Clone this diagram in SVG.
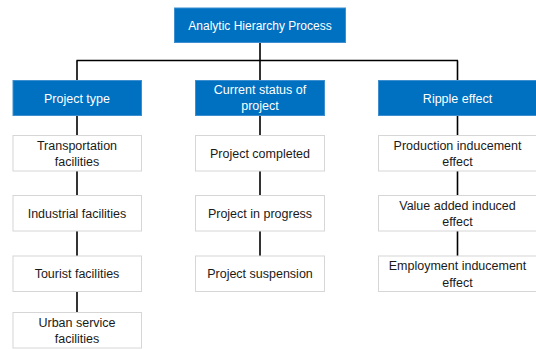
<svg xmlns="http://www.w3.org/2000/svg" width="536" height="349" viewBox="0 0 536 349">
  <style>
    .head rect { fill: #0070C0; stroke: #3d8fd0; stroke-width: 1; }
    .head text { fill: #ffffff; }
    .item rect { fill: #ffffff; stroke: #d6d6d6; stroke-width: 1; }
    .item text { fill: #1a1a1a; }
    text { font-family: "Liberation Sans", Arial, sans-serif; font-size: 12.5px; text-anchor: middle; }
    .links line { stroke: #000000; stroke-width: 1.6; }
  </style>
  <rect width="536" height="349" fill="#ffffff"/>

  <!-- connectors -->
  <g id="connectors" class="links">
    <line x1="260" y1="42" x2="260" y2="60.5"/>
    <line x1="76.5" y1="60.5" x2="458" y2="60.5"/>
    <line x1="77" y1="60.5" x2="77" y2="312"/>
    <line x1="260" y1="60.5" x2="260" y2="256"/>
    <line x1="457.5" y1="60.5" x2="457.5" y2="256"/>
  </g>

  <!-- root -->
  <g id="ahp" class="head">
    <rect x="174.5" y="8" width="171" height="34.5"/>
    <text x="260" y="29.5" style="font-size:12px">Analytic Hierarchy Process</text>
  </g>

  <!-- criteria -->
  <g id="project-type" class="head">
    <rect x="13" y="80.5" width="128.5" height="35"/>
    <text x="77" y="102.5">Project type</text>
  </g>
  <g id="current-status" class="head">
    <rect x="195.5" y="80.5" width="129" height="35"/>
    <text x="260" y="94">Current status of</text>
    <text x="260" y="110">project</text>
  </g>
  <g id="ripple-effect" class="head">
    <rect x="378.5" y="80.5" width="159" height="35"/>
    <text x="457.5" y="102.5">Ripple effect</text>
  </g>

  <!-- project type items -->
  <g id="transportation" class="item">
    <rect x="13" y="135.5" width="128.5" height="35.5"/>
    <text x="77" y="149.5">Transportation</text>
    <text x="77" y="166">facilities</text>
  </g>
  <g id="industrial" class="item">
    <rect x="13" y="195.5" width="128.5" height="35.5"/>
    <text x="77" y="217.5">Industrial facilities</text>
  </g>
  <g id="tourist" class="item">
    <rect x="13" y="256" width="128.5" height="35.5"/>
    <text x="77" y="278">Tourist facilities</text>
  </g>
  <g id="urban-service" class="item">
    <rect x="13" y="312.5" width="128.5" height="35.5"/>
    <text x="77" y="326.5">Urban service</text>
    <text x="77" y="343">facilities</text>
  </g>

  <!-- status items -->
  <g id="completed" class="item">
    <rect x="195.5" y="135.5" width="129" height="35.5"/>
    <text x="260" y="157.5">Project completed</text>
  </g>
  <g id="in-progress" class="item">
    <rect x="195.5" y="195.5" width="129" height="35.5"/>
    <text x="260" y="217.5">Project in progress</text>
  </g>
  <g id="suspension" class="item">
    <rect x="195.5" y="256" width="129" height="35.5"/>
    <text x="260" y="278">Project suspension</text>
  </g>

  <!-- ripple effect items -->
  <g id="production" class="item">
    <rect x="378.5" y="135.5" width="159" height="35.5"/>
    <text x="457.5" y="149.5">Production inducement</text>
    <text x="457.5" y="166">effect</text>
  </g>
  <g id="value-added" class="item">
    <rect x="378.5" y="195.5" width="159" height="35.5"/>
    <text x="457.5" y="209.5">Value added induced</text>
    <text x="457.5" y="226">effect</text>
  </g>
  <g id="employment" class="item">
    <rect x="378.5" y="256" width="159" height="35.5"/>
    <text x="457.5" y="270">Employment inducement</text>
    <text x="457.5" y="286.5">effect</text>
  </g>
</svg>
